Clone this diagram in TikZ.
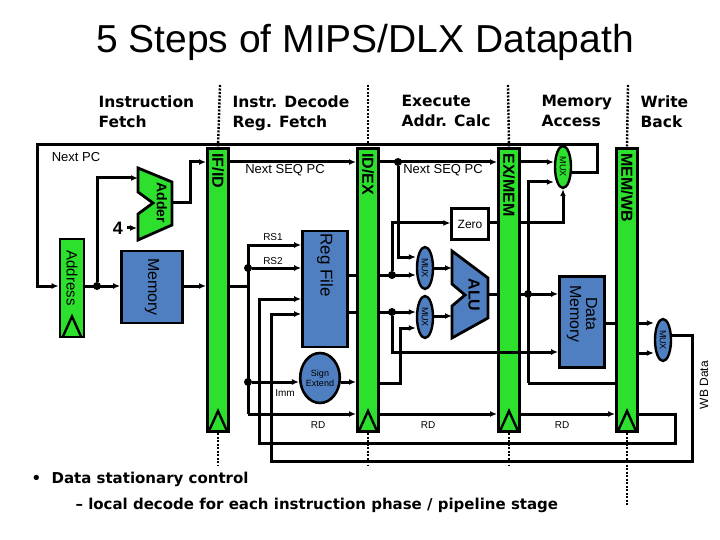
\documentclass[tikz,border=0pt]{standalone}
\usepackage{fontspec}
\setmainfont{Liberation Sans}
\newfontfamily\djv{DejaVu Sans}
\usetikzlibrary{shapes.geometric,arrows.meta}
\definecolor{pg}{HTML}{2EE02E}
\definecolor{pb}{HTML}{4F7FC0}
\begin{document}
\begin{tikzpicture}[x=1pt,y=-1pt,
  w/.style={line width=3pt},
  a/.style={w,-{Latex[length=7pt,width=6pt]}},
  reg/.style={draw,line width=3pt,fill=pg,minimum width=21pt,minimum height=283pt,inner sep=0pt},
  rl/.style={rotate=-90,font=\bfseries\fontsize{16}{16}\selectfont},
  blk/.style={draw,line width=2.8pt,fill=pb,inner sep=0pt},
  mux/.style={ellipse,draw,line width=2.4pt,fill=pb,minimum width=16pt,minimum height=42pt,inner sep=0pt,font=\fontsize{9}{9}\selectfont},
  hd/.style={font=\djv\bfseries\fontsize{15.5}{20}\selectfont,align=left,anchor=north west},
  sm/.style={font=\fontsize{10}{10}\selectfont},
  dsh/.style={line width=2.4pt,dash pattern=on 2pt off 1.5pt},
  dot/.style={circle,fill,inner sep=0pt,minimum size=8pt}]
\useasboundingbox (0,0) rectangle (720,540);
% title and headers
\node[font=\fontsize{39}{39}\selectfont] (title) at (365,42) {5 Steps of MIPS/DLX Datapath};
\node[hd] (h1) at (95,92) {Instruction\\Fetch};
\node[hd] (h2) at (229,92) {Instr. Decode\\Reg. Fetch};
\node[hd] (h3) at (398,92) {Execute\\Addr. Calc};
\node[hd] (h4) at (538,92) {Memory\\Access};
\node[hd] (h5) at (637,92) {Write\\Back};
\coordinate (d1) at (220,85); \coordinate (d2) at (368,85); \coordinate (d3) at (508,85); \coordinate (d4) at (628,85);
% pipeline registers
\node[reg] (r1) at (218,290) {}; \node[rl,anchor=west] (l1) at (218,150) {IF/ID};
\node[reg] (r2) at (368,290) {}; \node[rl,anchor=west] (l2) at (368,150) {ID/EX};
\node[reg] (r3) at (509,290) {}; \node[rl,anchor=west] (l3) at (509,150) {EX/MEM};
\node[reg] (r4) at (627,290) {}; \node[rl,anchor=west] (l4) at (627,150) {MEM/WB};
\node[draw,line width=2.8pt,fill=pg,minimum width=24pt,minimum height=98pt,inner sep=0pt] (pc) at (72,288) {};
\node[rotate=-90,font=\fontsize{15}{15}\selectfont] (pcl) at (72,278) {Address};
\foreach \r in {r1,r2,r3,r4,pc}{
  \draw[line width=2.4pt] ([xshift=-9pt,yshift=2pt]\r.south) -- ([yshift=22pt]\r.south) -- ([xshift=9pt,yshift=2pt]\r.south);}
\foreach \r/\e in {r1/465,r2/465,r3/465,r4/505}{\draw[dsh] (\r.south) -- (\r.south|-0,\e);}
\foreach \d/\r in {d1/r1,d2/r2,d3/r3,d4/r4}{\draw[dsh] (\d) -- (\r.north);}
% IF stage
\node[blk,minimum width=61pt,minimum height=72pt] (mem) at (152,287) {};
\node[rotate=-90,font=\fontsize{16}{16}\selectfont] (meml) at (152,287) {Memory};
\draw[line width=2.8pt,fill=pg] (138,168) -- (172,182) -- (172,225) -- (138,240) -- (138,214) -- (153,203) -- (138,192) -- cycle;
\node[rotate=-90,font=\bfseries\fontsize{14}{14}\selectfont] (add) at (162,203) {Adder};
\node[font=\bfseries\fontsize{18}{18}\selectfont] (four) at (118,228) {4};
\node[dot] (j1) at (97,286) {};
\node[font=\fontsize{13}{13}\selectfont] (npc) at (76,157) {Next PC};
\draw[a] (pc.east|-0,286) -- (mem.west|-0,286);
\draw[a] (j1) |- (138,178);
\draw[a] (four) -- (137,228);
\draw[a] (172,203) -- (190,203) |- (r1.west|-0,162);
\draw[a] (mem.east|-0,286) -- (r1.west|-0,286);
% ID stage
\node[blk,minimum width=45pt,minimum height=116pt] (rf) at (325,289) {};
\node[rotate=-90,font=\fontsize{17}{17}\selectfont] (rfl) at (325,265) {Reg File};
\node[ellipse,draw,line width=2.6pt,fill=pb,minimum width=34pt,minimum height=50pt,inner sep=0pt,align=center,font=\fontsize{9}{10}\selectfont] (se) at (320,378) {Sign\\Extend};
\node[dot] (j2) at (248,268) {};
\node[dot] (j3) at (248,382) {};
\draw[w] (r1.east|-0,286) -- (248,286);
\draw[a] (248,414) -- (248,245) -- (rf.west|-0,245);
\draw[a] (j2) -- (rf.west|-0,268);
\draw[a] (j3) -- (se.west|-0,382);
\draw[a] (248,414) -- (r2.west|-0,414);
\draw[a] (r1.east|-0,162) -- (r2.west|-0,162);
\node[font=\fontsize{13}{13}\selectfont] (nsp1) at (285,170) {Next SEQ PC};
\node[sm] (rs1) at (273,237) {RS1}; \node[sm] (rs2) at (273,261) {RS2};
\node[sm] (imm) at (285,393) {Imm}; \node[sm] (rd1) at (318,425) {RD};
\draw[w] (rf.east|-0,275) -- (r2.west|-0,275);
\draw[w] (rf.east|-0,312) -- (r2.west|-0,312);
\draw[a] (se.east|-0,382) -- (r2.west|-0,382);
% EX stage
\node[mux] (m1) at (425,268) {\rotatebox{-90}{MUX}};
\node[mux] (m2) at (425,317) {\rotatebox{-90}{MUX}};
\draw[line width=2.8pt,fill=pb] (452,251) -- (488,278) -- (488,318) -- (452,338) -- (452,306) -- (465,295) -- (452,284) -- cycle;
\node[rotate=-90,font=\bfseries\fontsize{16}{16}\selectfont] (alu) at (474,295) {ALU};
\node[draw,line width=2.4pt,fill=white,minimum width=37pt,minimum height=31pt,font=\fontsize{12}{12}\selectfont] (zero) at (470,224) {Zero};
\node[dot] (j4) at (398,162) {}; \node[dot] (j5) at (392,275) {}; \node[dot] (j6) at (392,312) {};
\draw[a] (r2.east|-0,162) -- (r3.west|-0,162);
\node[font=\fontsize{13}{13}\selectfont] (nsp2) at (443,170) {Next SEQ PC};
\draw[a] (j4) |- (m1.west|-0,257);
\draw[a] (r2.east|-0,275) -- (m1.west|-0,275);
\draw[a] (j5) |- (zero.west|-0,223);
\draw[a] (r2.east|-0,312) -- (m2.west|-0,312);
\draw[a] (r2.east|-0,383) -- (400,383) |- (m2.west|-0,328);
\draw[a] (m1.east|-0,268) -- (452,268);
\draw[a] (m2.east|-0,316) -- (452,316);
\draw[w] (488,294) -- (r3.west|-0,294);
\draw[w] (zero.east|-0,223) -- (r3.west|-0,223);
\draw[a] (r2.east|-0,414) -- (r3.west|-0,414);
\node[sm] (rd2) at (428,425) {RD};
% MEM stage
\node[blk,minimum width=45pt,minimum height=91pt] (dm) at (582,322) {};
\node[rotate=-90,align=center,font=\fontsize{16}{16}\selectfont] (dml) at (582,314) {Data\\Memory};
\node[mux,fill=pg] (m3) at (563,167) {\rotatebox{-90}{MUX}};
\node[dot] (j7) at (528,294) {};
\draw[a] (r3.east|-0,162) -- (m3.west|-0,162);
\draw[a] (528,383) -- (528,182) -- (m3.west|-0,182);
\draw[w] (528,383) -- (r4.west|-0,383);
\draw[a] (r3.east|-0,294) -- (dm.west|-0,294);
\draw[a] (j6) |- (dm.west|-0,352);
\draw[a] (r3.east|-0,223) -- (563,223) -- (m3.south);
\draw[a] (m3.east|-0,173) -- (597,173) -- (597,145) -- (37,145) -- (37,286) -- (pc.west|-0,286);
\draw[w] (dm.east|-0,323) -- (r4.west|-0,323);
\draw[a] (r3.east|-0,414) -- (r4.west|-0,414);
\node[sm] (rd3) at (562,425) {RD};
% WB stage
\node[mux] (m4) at (663,340) {\rotatebox{-90}{MUX}};
\draw[a] (r4.east|-0,323) -- (m4.west|-0,323);
\draw[a] (r4.east|-0,353) -- (m4.west|-0,353);
\draw[a] (m4.east|-0,335) -- (692,335) -- (692,461) -- (271,461) -- (271,314) -- (rf.west|-0,314);
\draw[a] (r4.east|-0,414) -- (675,414) -- (675,443) -- (259,443) -- (259,299) -- (rf.west|-0,299);
\node[rotate=90,font=\fontsize{12}{12}\selectfont] (wbd) at (704,385) {WB Data};
% notes
\node[anchor=west,font=\djv\bfseries\fontsize{15}{15}\selectfont] (n1) at (28,479) {\textbullet\ \ Data stationary control};
\node[anchor=west,font=\djv\bfseries\fontsize{15}{15}\selectfont] (n2) at (72,505) {– local decode for each instruction phase / pipeline stage};
\end{tikzpicture}
\end{document}
